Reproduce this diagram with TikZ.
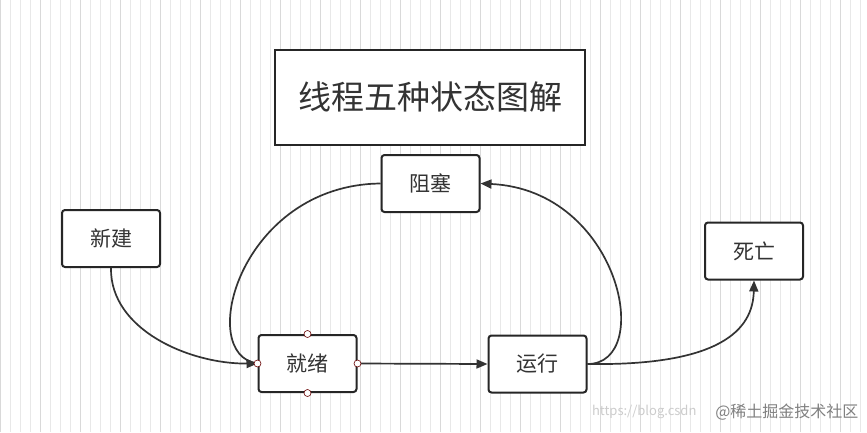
\documentclass[tikz,border=0pt]{standalone}
\usepackage{fontspec}
\setmainfont{Noto Sans CJK SC}
\usetikzlibrary{arrows.meta}
\begin{document}
\begin{tikzpicture}[x=1pt,y=-1pt,
  box/.style={draw=black!85,line width=2pt,rounded corners=3pt,fill=white,minimum width=98pt,minimum height=57pt,font=\fontsize{21}{24}\selectfont,text=black!80},
  conn/.style={line width=1.7pt,draw=black!80},
  arr/.style={-{Triangle[length=11pt,width=9pt]}},
  port/.style={circle,draw=red!40!black,fill=white,inner sep=0pt,minimum size=7pt,line width=0.6pt}]
\useasboundingbox (0,0) rectangle (867,432);
\fill[white] (0,0) rectangle (867,432);
\draw[black!9,line width=0.6pt] (0,0) grid[step=10] (867,432);
\draw[black!15,line width=0.7pt] (0,0) grid[step=40] (867,432);
\node[draw=black!85,line width=2pt,fill=white,minimum width=310pt,minimum height=95pt,font=\fontsize{33}{38}\selectfont,text=black!80] (title) at (430,97) {线程五种状态图解};
\node[box] (zs) at (430.5,183.5) {阻塞};
\node[box] (xj) at (111,238.5) {新建};
\node[box] (sw) at (754,251) {死亡};
\node[box] (jx) at (307.5,363.5) {就绪};
\node[box] (yx) at (537.5,364) {运行};
\draw[conn,arr] (xj.south) .. controls (110,330) and (190,364) .. (jx.west);
\draw[conn] (zs.west) .. controls (240,185) and (195,355) .. (jx.west);
\draw[conn,arr] (jx.east) -- (yx.west);
\draw[conn,arr] (yx.east) .. controls (655,364) and (620,190) .. (zs.east);
\draw[conn,arr] (yx.east) .. controls (720,366) and (753,330) .. (sw.south);
\foreach \a in {north,south,east,west} \node[port] at (jx.\a) {};
\node[anchor=east,font=\fontsize{13}{15}\selectfont,text=black!20] (wm1) at (700,412) {https://blog.csdn};
\node[anchor=east,font=\fontsize{16}{18}\selectfont,text=black!50] (wm2) at (862,412) {@稀土掘金技术社区};
\end{tikzpicture}
\end{document}
